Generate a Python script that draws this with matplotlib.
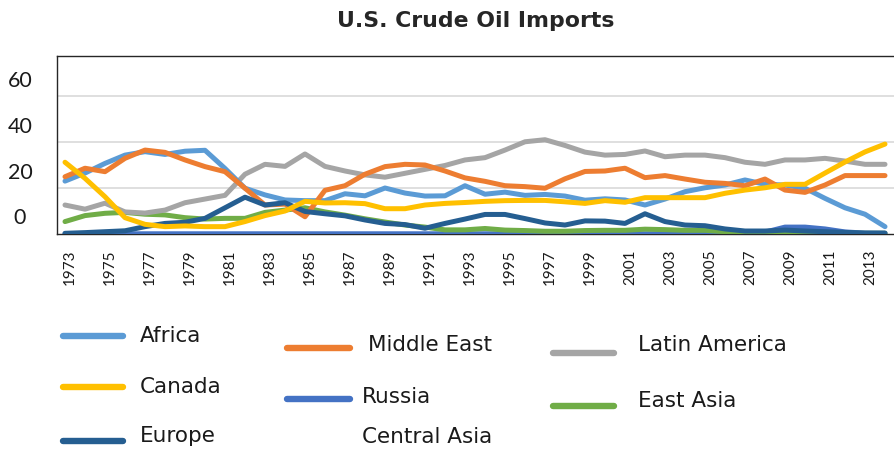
import matplotlib
matplotlib.use("Agg")
import matplotlib.pyplot as plt
from matplotlib.lines import Line2D
from matplotlib.transforms import ScaledTranslation, blended_transform_factory

years = list(range(1973, 2015))

africa = [23, 26.5, 30.7, 34.3, 35.8, 34.6, 36, 36.4, 28.5, 19.9, 17, 14.8, 14.5, 14.5,
          17.5, 16.6, 20, 17.8, 16.5, 16.6, 21, 17.3, 18.2, 16.8, 17.2, 16.5, 14.7, 15.3,
          14.8, 12.6, 15.2, 18.4, 20.1, 21.3, 23.5, 21.6, 21.3, 19.9, 15.5, 11.4, 8.6, 3.2]
middle_east = [24.9, 28.6, 27.1, 32.9, 36.5, 35.5, 32.2, 29.3, 27.1, 19.9, 12.6, 13, 7.5, 19,
               21, 26, 29.3, 30.3, 30, 27.4, 24.4, 22.9, 21, 20.6, 19.9, 24, 27.2, 27.4,
               28.6, 24.5, 25.4, 23.9, 22.5, 22, 21, 23.9, 19.1, 18.1, 21.3, 25.4, 25.4, 25.4]
latin_america = [12.6, 10.8, 13.4, 9.6, 9.1, 10.4, 13.6, 15.2, 16.8, 26, 30.3, 29.4, 34.8, 29.4,
                 27.4, 25.7, 24.7, 26.4, 28.1, 29.8, 32.2, 33.2, 36.5, 40.1, 41, 38.5, 35.6, 34.3,
                 34.6, 36.1, 33.6, 34.3, 34.3, 33.2, 31.2, 30.3, 32.2, 32.2, 32.9, 31.7, 30.3, 30.3]
canada = [31.2, 24.2, 16.2, 7.1, 4.2, 3.2, 3.5, 3.2, 3.2, 5.4, 8, 10, 14.2, 13.5,
          13.6, 13.2, 11, 11, 12.6, 13.3, 13.7, 14.2, 14.5, 14.6, 14.6, 14, 13.3, 14.5,
          13.8, 15.8, 15.8, 15.8, 15.8, 17.7, 19.1, 20.1, 21.6, 21.6, 26.5, 31.3, 35.7, 39.1]
russia = [0.1, 0.1, 0.1, 0.1, 0.1, 0.1, 0.1, 0.1, 0.1, 0.1, 0.1, 0.1, 0.1, 0.1,
          0.1, 0.1, 0.1, 0.1, 0.1, 0.1, 0.1, 0.1, 0.1, 0.1, 0.1, 0.1, 0.1, 0.1,
          0.1, 0.1, 0.1, 0.1, 0.1, 0.1, 0.2, 0.8, 3.0, 3.0, 2.2, 0.9, 0.4, 0.3]
east_asia = [5.4, 8, 9, 9.4, 8.6, 8.3, 7.1, 6.5, 6.8, 6.8, 9.4, 10.4, 11.4, 9.6,
             8.2, 6.6, 5.2, 3.9, 3, 1.8, 1.8, 2.4, 1.7, 1.5, 1.2, 1.2, 1.5, 1.6,
             1.6, 2.1, 1.9, 1.6, 1.6, 1, 0.4, 0.3, 0.3, 0.3, 0.3, 0.3, 0.3, 0.3]
europe = [0.3, 0.6, 1, 1.4, 3.2, 4.6, 5.1, 6.8, 11.4, 16, 12.6, 13.6, 9.8, 8.8,
          7.9, 6.1, 4.6, 4.1, 2.5, 4.6, 6.5, 8.5, 8.5, 6.7, 4.8, 3.9, 5.7, 5.6,
          4.6, 8.8, 5.4, 3.9, 3.6, 2.2, 1.3, 1.3, 1.7, 1.3, 1, 0.7, 0.4, 0.4]

y_ticks = [0, 20, 40, 60]
x_tick_years = list(range(1973, 2014, 2))

# name -> (values, colour); drawing order
series = [
    ("Russia", russia, "#4472C4"),
    ("East Asia", east_asia, "#70AD47"),
    ("Latin America", latin_america, "#A5A5A5"),
    ("Africa", africa, "#5B9BD5"),
    ("Middle East", middle_east, "#ED7D31"),
    ("Europe", europe, "#255E91"),
    ("Canada", canada, "#FFC000"),
]
colors = {n: c for n, _, c in series}

W, H = 894, 450
fig = plt.figure(figsize=(W / 100, H / 100), dpi=100)
ax = fig.add_axes([57 / W, 1 - 234 / H, 1 - 57 / W, (234 - 56) / H])

for name, vals, col in series:
    ax.plot(years, vals, color=col, lw=3.6, solid_joinstyle="round", solid_capstyle="round", zorder=3)

ax.set_xlim(1972.6, 2014.45)
ax.set_ylim(0, 77.4)

for g in y_ticks[1:]:
    ax.axhline(g, color="#d9d9d9", lw=1.2, zorder=1)

ax.set_yticks(y_ticks)
ax.set_yticklabels([])
ax.tick_params(axis="y", length=0)
ytrans = blended_transform_factory(fig.transFigure, ax.transData) + ScaledTranslation(0, 0.095, fig.dpi_scale_trans)
for v in y_ticks:
    fig.text(20 / W, v, str(v), transform=ytrans, ha="center", va="baseline",
             fontsize=15.5, family="Lato", color="#1a1a1a")

ax.set_xticks(x_tick_years)
ax.set_xticklabels([str(y) for y in x_tick_years], rotation=90, fontsize=11, family="Lato", color="#1a1a1a")
ax.tick_params(axis="x", length=0, pad=11)
off = ScaledTranslation(0.05, 0, fig.dpi_scale_trans)
for lab in ax.get_xticklabels():
    lab.set_transform(lab.get_transform() + off)

for s in ["left", "top", "bottom"]:
    ax.spines[s].set_color("#262626")
    ax.spines[s].set_linewidth(1.0)
ax.spines["right"].set_visible(False)

fig.text(476 / W, 1 - 27 / H, "U.S. Crude Oil Imports", ha="center", va="baseline",
         fontsize=15.8, fontweight="bold", family="DejaVu Sans", color="#262626")

# legend, placed manually (pixel coords from top-left)
legend_items = [
    ("Africa", (63, 123, 336), (140, 342)),
    ("Canada", (63, 123, 387), (140, 393)),
    ("Europe", (63, 123, 441), (140, 442)),
    ("Middle East", (287, 350, 348), (368, 351)),
    ("Russia", (287, 350, 399), (362, 403)),
    ("Central Asia", None, (362, 443)),
    ("Latin America", (553, 614, 353), (638, 351)),
    ("East Asia", (553, 614, 406), (638, 407)),
]
for name, line, (tx, ty) in legend_items:
    if line is not None and name in colors:
        x0, x1, ly = line
        fig.add_artist(Line2D([x0 / W, x1 / W], [1 - ly / H, 1 - ly / H], color=colors[name],
                              lw=4.6, solid_capstyle="round", transform=fig.transFigure))
    fig.text(tx / W, 1 - ty / H, name, ha="left", va="baseline", fontsize=15.5,
             family="DejaVu Sans", color="#1a1a1a")

fig.savefig("out.png", dpi=100)
